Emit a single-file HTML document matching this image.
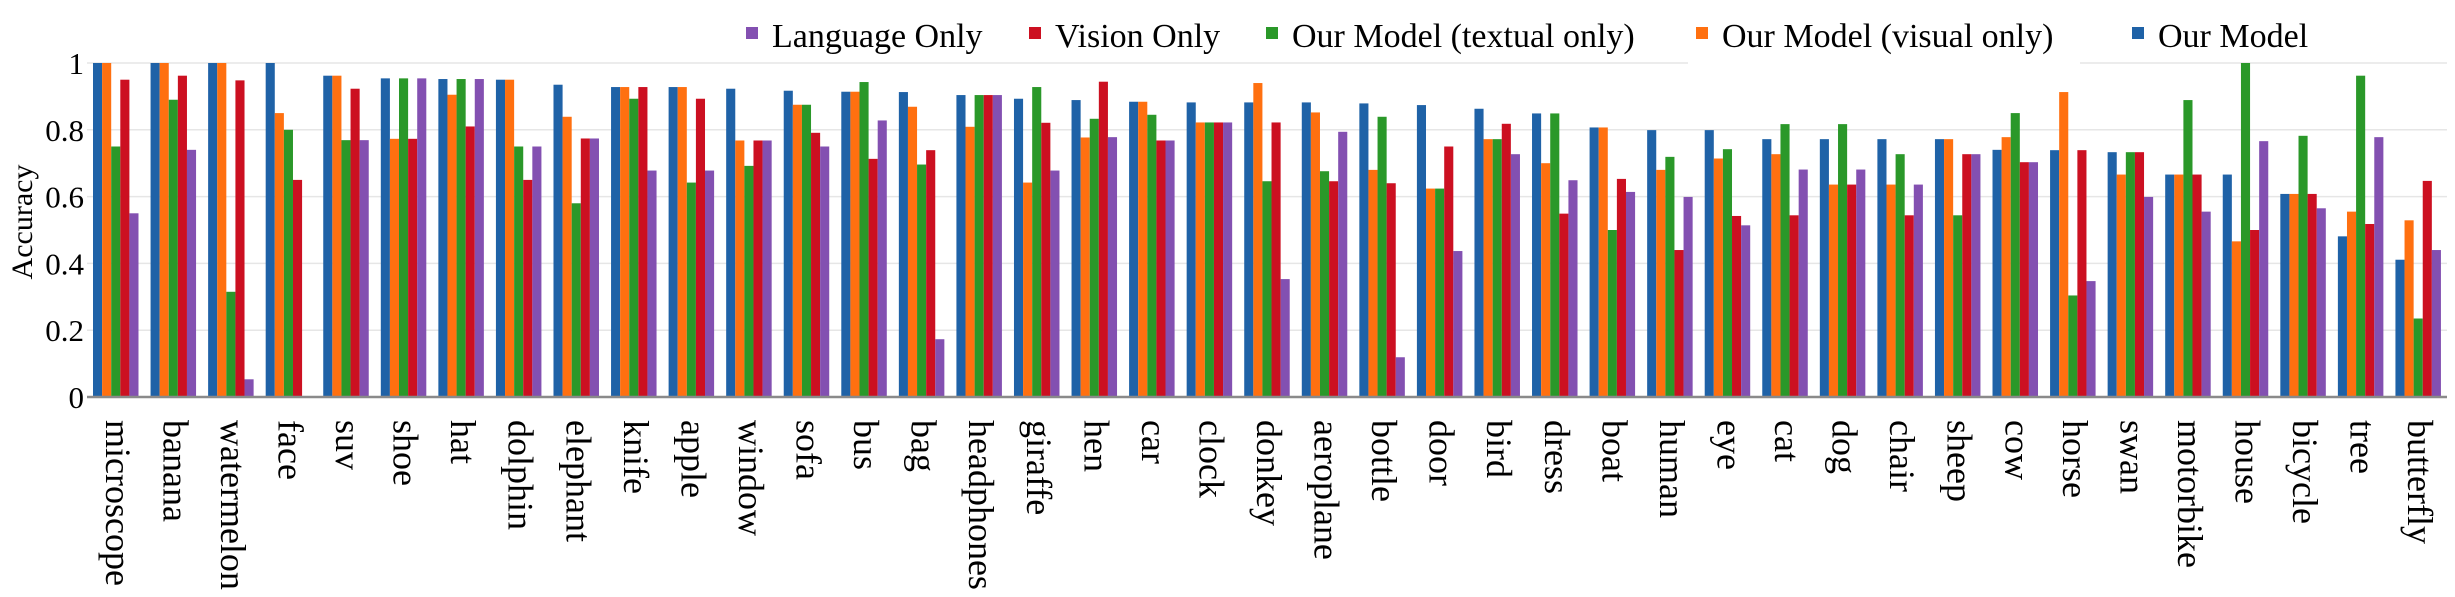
<!DOCTYPE html>
<html><head><meta charset="utf-8"><style>
html,body{margin:0;padding:0;background:#fff;}
svg{display:block;font-family:"Liberation Serif",serif;}
</style></head><body>
<svg id="chart" width="2455" height="597" viewBox="0 0 2455 597"></svg>
<script>
const categories = ["microscope","banana","watermelon","face","suv","shoe","hat","dolphin","elephant","knife","apple","window","sofa","bus","bag","headphones","giraffe","hen","car","clock","donkey","aeroplane","bottle","door","bird","dress","boat","human","eye","cat","dog","chair","sheep","cow","horse","swan","motorbike","house","bicycle","tree","butterfly"];
const ourModel = [1.0,1.0,1.0,1.0,0.962,0.954,0.952,0.95,0.935,0.928,0.928,0.923,0.917,0.914,0.913,0.904,0.893,0.889,0.884,0.882,0.882,0.882,0.879,0.874,0.863,0.849,0.807,0.799,0.799,0.772,0.772,0.772,0.772,0.74,0.739,0.733,0.666,0.666,0.608,0.481,0.411];
const visualOnly = [1.0,1.0,1.0,0.85,0.962,0.773,0.905,0.95,0.839,0.928,0.928,0.768,0.875,0.914,0.869,0.809,0.642,0.777,0.884,0.822,0.94,0.852,0.68,0.624,0.772,0.70,0.807,0.68,0.714,0.727,0.636,0.636,0.772,0.778,0.913,0.666,0.666,0.466,0.608,0.555,0.529];
const textualOnly = [0.75,0.89,0.315,0.80,0.769,0.954,0.952,0.75,0.58,0.893,0.642,0.692,0.875,0.943,0.696,0.904,0.928,0.833,0.845,0.822,0.646,0.676,0.839,0.624,0.772,0.849,0.50,0.719,0.742,0.817,0.817,0.727,0.544,0.85,0.304,0.733,0.889,1.0,0.782,0.962,0.235];
const visionOnly = [0.95,0.962,0.948,0.65,0.923,0.773,0.81,0.65,0.774,0.928,0.893,0.768,0.791,0.713,0.739,0.904,0.821,0.944,0.768,0.822,0.822,0.646,0.64,0.75,0.818,0.549,0.653,0.44,0.542,0.544,0.636,0.544,0.727,0.703,0.739,0.733,0.666,0.50,0.608,0.518,0.647];
const languageOnly = [0.55,0.74,0.053,0,0.769,0.954,0.952,0.75,0.774,0.678,0.678,0.768,0.75,0.828,0.173,0.904,0.678,0.778,0.768,0.822,0.353,0.794,0.119,0.437,0.727,0.649,0.614,0.599,0.514,0.681,0.681,0.636,0.727,0.703,0.347,0.599,0.555,0.766,0.565,0.778,0.44];
const yTicks = [0,0.2,0.4,0.6,0.8,1];
const yTickLabels = ["0","0.2","0.4","0.6","0.8","1"];
const seriesNames = ["Our Model","Our Model (visual only)","Our Model (textual only)","Vision Only","Language Only"];

const NS="http://www.w3.org/2000/svg";
const svg=document.getElementById('chart');
const colors=["#1f62a7","#ff7010","#2a9829","#cc1021","#8350b1"];
const series=[ourModel,visualOnly,textualOnly,visionOnly,languageOnly];
const X0=87,X1=2447,Y0=397,Y1=63;
const band=(X1-X0)/categories.length;
const barW=9.1;
function xBand(i){return X0+i*band;}
function y(v){return Y0-v*(Y0-Y1);}
function mk(tag,attrs){const e=document.createElementNS(NS,tag);for(const k in attrs)e.setAttribute(k,attrs[k]);svg.appendChild(e);return e;}

// gridlines
yTicks.forEach((t,i)=>{
  if(t===0)return;
  const g=mk('line',{x1:X0,x2:X1,y1:y(t),y2:y(t),stroke:'#e6e6e6','stroke-width':1.5});
  
  
});
// gap in top gridline behind legend
const gap=mk('rect',{x:1688,y:y(1)-3,width:392,height:6,fill:'#fff'});



// bars
categories.forEach((c,i)=>{
  series.forEach((s,k)=>{
    const v=s[i];
    if(v<=0)return;
    const r=mk('rect',{x:xBand(i)+6+k*barW,y:y(v),width:barW,height:y(0)-y(v),fill:colors[k]});
    
    
  });
  const t=mk('text',{x:0,y:0,'font-size':36,fill:'#000',transform:'translate('+(xBand(i)+band/2-10)+',420) rotate(90)'});
  t.textContent=c;
  
  
});

// axis line
const ax=mk('line',{x1:X0,x2:X1,y1:Y0,y2:Y0,stroke:'#8a8a8a','stroke-width':2.5});



// y tick labels
yTicks.forEach((t,i)=>{
  const e=mk('text',{x:84,y:y(t)+11,'font-size':31,'text-anchor':'end',fill:'#000'});
  e.textContent=yTickLabels[i];
  
  
});
const yt=mk('text',{x:0,y:0,'font-size':30,'text-anchor':'middle',fill:'#000',transform:'translate(32,222) rotate(-90)'});
yt.textContent='Accuracy';



// legend
const legendOrder=[4,3,2,1,0];
const legendSq=[746,1029,1266,1696,2132];
legendOrder.forEach((k,j)=>{
  const sq=mk('rect',{x:legendSq[j],y:27,width:12,height:12,fill:colors[k]});
  
  
  const t=mk('text',{x:legendSq[j]+26,y:47,'font-size':34,fill:'#000'});
  t.textContent=seriesNames[k];
  
  
});
</script>
</body></html>
